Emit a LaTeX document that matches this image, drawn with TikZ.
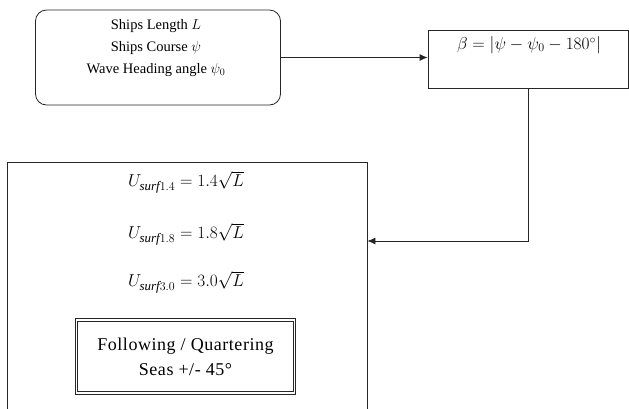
\documentclass[tikz,border=0pt]{standalone}
\usepackage{fontspec}
\setmainfont{Liberation Serif}
\usetikzlibrary{arrows.meta,positioning}

\begin{document}
\begin{tikzpicture}[
  x=1pt, y=-1pt,
  every node/.style={font=\fontsize{14.5}{22}\selectfont},
  box/.style={
    draw=black!85,
    line width=0.8pt,
    inner sep=0pt
  },
  formula/.style={font=\fontsize{18.5}{22}\selectfont},
  arrow/.style={-{Latex[length=8pt,width=7pt]},line width=0.8pt,black!85}
]
  \useasboundingbox (0,0) rectangle (629,408);
  \clip (0,0) rectangle (629,408);
  % inputs
  \node[box,rounded corners=11pt,minimum width=245pt,minimum height=95pt] (ship) at (158,57.5) {};
  \node[align=center] (shiptext) at (156,48)
    {Ships Length $L$\\Ships Course $\psi$\\Wave Heading angle $\psi_0$};
  \node[box,minimum width=200pt,minimum height=58pt] (beta) at (528,59) {};
  \node[font=\fontsize{17.5}{22}\selectfont] (betatext) at (529,45)
    {$\beta = \left|\psi - \psi_0 - 180^\circ\right|$};
  % surf-riding speeds
  \node[box,minimum width=360pt,minimum height=270pt] (surf) at (187,297) {};
  \node[formula] (eq14) at (186,182) {$U_{\mathit{surf}1.4} = 1.4\sqrt{L}$};
  \node[formula] (eq18) at (186,234) {$U_{\mathit{surf}1.8} = 1.8\sqrt{L}$};
  \node[formula] (eq30) at (186,282) {$U_{\mathit{surf}3.0} = 3.0\sqrt{L}$};
  \node[box,double,double distance=1.5pt,minimum width=218pt,minimum height=73pt,align=center,
    font=\fontsize{18}{25}\selectfont\addfontfeatures{LetterSpace=3}] (seas) at (185.5,356.5)
    {Following / Quartering\\Seas +/- 45°};
  \draw[arrow] (ship.east) -- (ship.east -| beta.west);
  \draw[arrow] (beta.south) |- ([yshift=56pt]surf.east);
\end{tikzpicture}
\end{document}
